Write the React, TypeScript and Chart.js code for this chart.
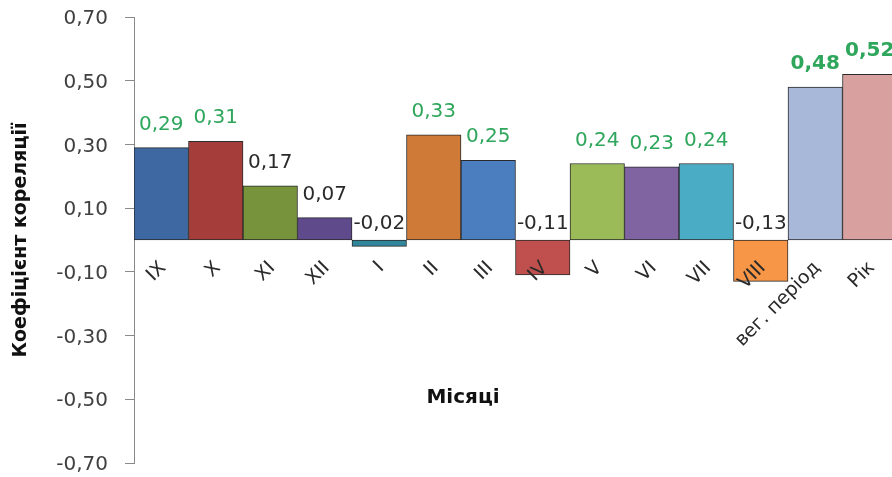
import React, { useEffect, useRef } from "react";
import { Chart, registerables } from "chart.js";

Chart.register(...registerables);

// ---- data ----
const categories = ["IX", "X", "XI", "XII", "I", "II", "III", "IV", "V", "VI", "VII", "VIII", "вег. період", "Рік"];
const correlations = [0.29, 0.31, 0.17, 0.07, -0.02, 0.33, 0.25, -0.11, 0.24, 0.23, 0.24, -0.13, 0.48, 0.52];
const yMin = -0.7;
const yMax = 0.7;
const yStep = 0.2;
const yAxisTitle = "Коефіцієнт кореляції";
const xAxisTitle = "Місяці";
const boldLabelCategories = ["вег. період", "Рік"];
const significanceThreshold = 0.2;

// ---- styles ----
const barColors = [
  "#3E68A1", "#A53D3B", "#77933C", "#5F4A8B", "#31869C", "#CF7A36", "#4A7EBE",
  "#C0504D", "#9BBB59", "#8064A2", "#4BACC6", "#F79646", "#A8B8D8", "#D9A0A0",
];
const FONT = '"DejaVu Sans", sans-serif';
const GREEN = "#2EA65C";
const DARK = "#2a2a2a";
const AXIS_GRAY = "#8a8a8a";

const fmt = (v: number) => v.toFixed(2).replace(".", ",");

const labelsPlugin = {
  id: "customLabels",
  afterDatasetsDraw(chart: any) {
    const ctx = chart.ctx as CanvasRenderingContext2D;
    const meta = chart.getDatasetMeta(0);
    const xScale = chart.scales.x;
    const yScale = chart.scales.y;
    const zeroY = yScale.getPixelForValue(0);
    ctx.save();
    // value labels
    meta.data.forEach((bar: any, i: number) => {
      const v = correlations[i];
      const bold = boldLabelCategories.includes(categories[i]);
      ctx.font = `${bold ? "bold " : ""}20px ${FONT}`;
      ctx.fillStyle = v > significanceThreshold ? GREEN : DARK;
      ctx.textAlign = "center";
      ctx.textBaseline = "alphabetic";
      const y = v >= 0 ? bar.y - 18 : zeroY - 11;
      ctx.fillText(fmt(v), bar.x, y);
    });
    // category labels (rotated, at the zero line)
    ctx.font = `19px ${FONT}`;
    ctx.fillStyle = DARK;
    categories.forEach((c, i) => {
      const x = xScale.getPixelForValue(i);
      ctx.save();
      ctx.translate(x + 2, zeroY + 25);
      ctx.rotate(-Math.PI / 4);
      ctx.textAlign = "right";
      ctx.textBaseline = "middle";
      ctx.fillText(c, 0, 0);
      ctx.restore();
    });
    // x axis title
    ctx.font = `bold 20px ${FONT}`;
    ctx.fillStyle = "#111";
    ctx.textAlign = "center";
    ctx.textBaseline = "middle";
    ctx.fillText(xAxisTitle, 463, 398);
    ctx.restore();
  },
};

export default function App() {
  const ref = useRef<HTMLCanvasElement | null>(null);

  useEffect(() => {
    if (!ref.current) return;
    const chart = new Chart(ref.current, {
      type: "bar",
      data: {
        labels: categories,
        datasets: [
          {
            data: correlations,
            backgroundColor: barColors,
            borderColor: "#2b2b2b",
            borderWidth: 1,
            borderSkipped: false,
            barPercentage: 1,
            categoryPercentage: 1,
          },
        ],
      },
      options: {
        responsive: false,
        animation: false,
        layout: { padding: { top: 17, right: 13, bottom: 14, left: 0 } },
        plugins: {
          legend: { display: false },
          tooltip: { enabled: false },
        },
        scales: {
          x: {
            display: false,
            offset: true,
          },
          y: {
            min: yMin,
            max: yMax,
            afterFit: (scale: any) => {
              scale.width = 134;
              scale.paddingTop = 0;
              scale.paddingBottom = 0;
            },
            ticks: {
              stepSize: yStep,
              padding: 17,
              labelOffset: 2,
              color: "#404040",
              font: { family: FONT, size: 20 },
              callback: (v: any) => fmt(Number(v)),
            },
            grid: {
              drawOnChartArea: false,
              drawTicks: true,
              tickLength: 9,
              color: AXIS_GRAY,
            },
            border: { display: true, color: AXIS_GRAY, width: 1 },
            title: {
              display: true,
              text: yAxisTitle,
              color: "#111",
              font: { family: FONT, size: 19, weight: "bold" },
              padding: { top: 10, bottom: 0 },
            },
          },
        },
      },
      plugins: [labelsPlugin],
    });
    return () => chart.destroy();
  }, []);

  return (
    <div
      style={{
        position: "fixed",
        left: 0,
        top: 0,
        width: 892,
        height: 477,
        overflow: "hidden",
        background: "#fff",
      }}
    >
      <canvas ref={ref} width={910} height={477} style={{ width: 910, height: 477, display: "block" }} />
    </div>
  );
}
